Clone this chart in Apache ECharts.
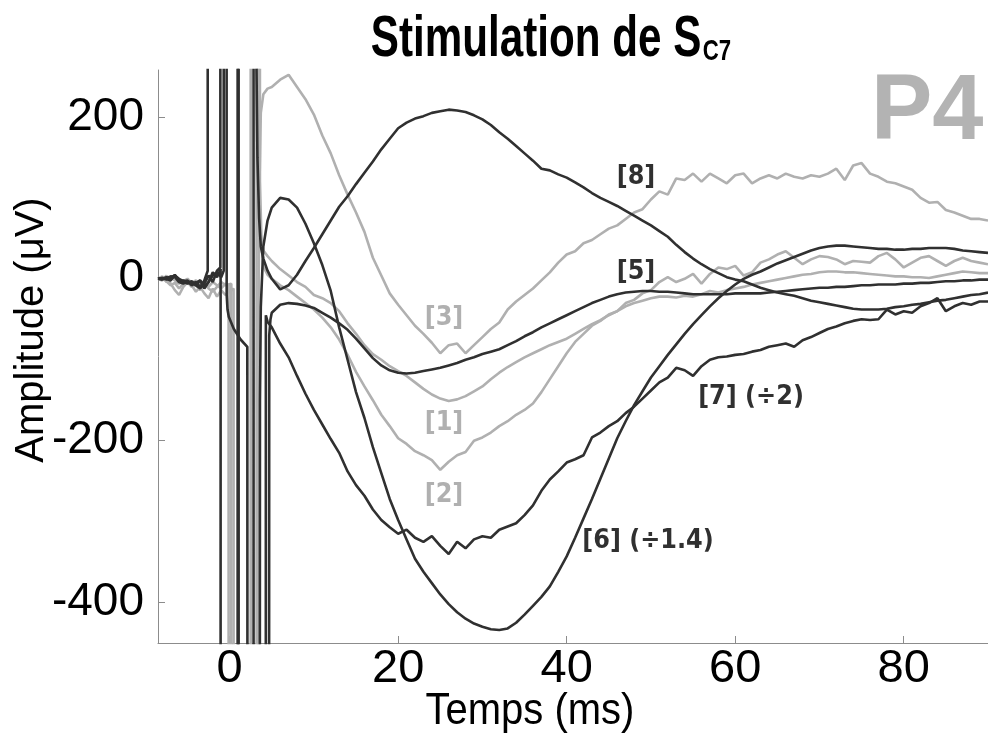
<!DOCTYPE html>
<html>
<head>
<meta charset="utf-8">
<script src="https://cdn.jsdelivr.net/npm/echarts@6/dist/echarts.min.js"></script>
<style>
html,body{margin:0;padding:0;background:#fff;}
#chart{width:988px;height:735px;}
</style>
</head>
<body>
<div id="chart"></div>
<script>
// ---- Data ----
const xTicks = [0, 20, 40, 60, 80];
const yTicks = [-400, -200, 0, 200];

// pre-stimulus sample times (ms)
const tPre = [-8.5, -8, -7.5, -7, -6.5, -6, -5.5, -5, -4.5, -4, -3.5, -3];
// main sample times 5..90 ms
const tMain = [];
for (let t = 5; t <= 90; t++) tMain.push(t);

// baseline values
const pre1 = [0, 2, -3, -8, -5, -12, -6, -4, -10, -8, -14, -6];
const pre2 = [0, -2, 4, -6, -14, -20, -10, -4, -8, -16, -10, -18];
const pre3 = [0, 3, -4, 2, -2, -6, -3, 0, -5, -2, -8, -4];
const pre5 = [0, 1, 0, -2, 5, -3, -2, -5, -4, -8, -2, -10];
const pre6 = [0, 0, 2, -1, 4, -2, -4, -6, -3, -8, -12, -6];
const pre7 = [0, -1, 1, 3, 2, -4, -6, -3, -8, -5, -2, -12];
const pre8 = [0, 1, -1, 2, 4, 0, -3, -2, -6, -4, -10, -2];

// stimulus artefact segments [time, amplitude]
const art1 = [[-2.5,-10],[-2,-4],[-1.5,-8],[-1,-12],[-0.5,-6],[-0.12,-8],[-0.12,-3000],[2.5,-3000],[2.5,3000],[3.3,3000],[3.4,150],[3.6,60],[4,35],[4.5,28]];
const art2 = [[-2.5,-24],[-2,-12],[-1.5,-22],[-1,-14],[-0.5,-20],[0.47,-12],[0.47,-3000],[3.2,-3000],[3.2,3000],[3.5,3000],[3.6,120],[3.8,40],[4,15],[4.5,5]];
const art3 = [[-2.5,-12],[-2,-16],[-1.5,-10],[-1,-4],[-0.5,-8],[0.2,-6],[0.2,-3000],[3.4,-3000],[3.45,0],[3.55,120],[3.7,205],[4,228],[4.5,235]];
const art5 = [[-2.5,-4],[-2,4],[-1.5,8],[-1,2],[-0.7,10],[-0.7,3000],[-0.4,3000],[-0.35,-20],[-0.25,-38],[-0.1,-47],[0.5,-62],[1.3,-75],[2.1,-84],[2.2,-3000],[4.6,-3000],[4.7,-70],[4.85,-50]];
const art6 = [[-2.5,4],[-2,-4],[-1.5,10],[-1.1,14],[-1.1,3000],[1.07,3000],[1.07,-3000],[3.5,-3000],[3.6,-150],[3.7,-35],[4,40],[4.5,72]];
const art7 = [[-2.5,-4],[-2,8],[-1.5,2],[-1.07,12],[-1.07,-3000],[0.95,-3000],[0.95,3000],[2.84,3000],[2.84,-3000],[4.26,-3000],[4.3,-45],[4.5,-53]];
const art8 = [[-2.6,10],[-2.6,3000],[3.1,3000],[3.15,300],[3.3,150],[3.5,75],[3.7,40],[4,25],[4.5,10]];

// responses, t = 5..90 ms
const main1 = [22,12,4,-4,-10,-20,-24,-30,-40,-55,
  -68,-82,-93,-100,-108,-114,-120,-128,-136,-143,
  -148,-151,-149,-145,-139,-133,-124,-116,-109,-103,
  -97,-92,-87,-82,-78,-74,-68,-62,-56,-51,
  -45,-40,-34,-30,-27,-24,-22,-22,-23,-21,
  -22,-19,-15,-17,-14,-12,-10,-7,-5,-3,
  -1,1,3,5,6,8,9,9,8,8,
  7,6,5,4,3,3,2,2,1,3,
  5,7,9,8,7,7];
const main2 = [0,-8,-14,-22,-30,-38,-48,-60,-75,-94,
  -115,-133,-150,-168,-182,-197,-204,-213,-218,-224,
  -236,-226,-218,-214,-200,-196,-190,-182,-176,-168,
  -162,-154,-140,-124,-108,-92,-78,-68,-58,-52,
  -44,-40,-30,-26,-18,-14,-4,2,-4,0,
  6,-6,6,14,12,16,4,8,20,24,
  30,34,26,18,24,28,27,24,18,22,
  21,20,28,32,24,14,20,26,28,22,
  16,22,26,22,20,18];
const main3 = [237,246,252,237,222,203,177,155,128,104,
  82,58,26,4,-18,-32,-45,-58,-68,-79,
  -92,-82,-80,-92,-82,-72,-62,-54,-38,-28,
  -20,-12,-2,8,20,30,34,44,48,55,
  62,66,74,82,86,98,108,104,124,122,
  130,120,130,124,118,128,130,118,124,128,
  124,130,126,124,128,126,130,136,122,140,
  143,130,126,120,118,114,110,100,94,95,
  85,82,78,74,74,72];
const main5 = [-42,-32,-30,-31,-33,-36,-42,-48,-55,-63,
  -74,-86,-98,-107,-113,-116,-117,-116,-114,-112,
  -110,-107,-104,-100,-97,-93,-90,-87,-82,-77,
  -71,-66,-60,-55,-50,-45,-40,-35,-30,-26,
  -22,-19,-17,-16,-15,-15,-16,-16,-17,-18,
  -19,-19,-19,-19,-19,-18,-18,-18,-18,-17,
  -16,-15,-14,-13,-12,-11,-11,-10,-10,-9,
  -8,-8,-7,-7,-7,-6,-6,-5,-5,-4,
  -3,-3,-2,-2,-1,-1];
const main6 = [88,100,98,88,68,44,17,-15,-60,-100,
  -140,-172,-208,-240,-272,-298,-322,-346,-362,-376,
  -390,-402,-412,-420,-426,-430,-433,-434,-432,-425,
  -415,-404,-393,-380,-362,-343,-320,-296,-272,-247,
  -222,-197,-176,-156,-139,-122,-108,-94,-81,-68,
  -56,-45,-34,-24,-15,-7,0,5,9,14,
  19,23,27,31,35,38,40,41,41,40,
  39,38,37,37,36,36,37,37,38,38,
  38,37,35,34,33,32];
const main7 = [-60,-80,-97,-120,-142,-162,-180,-198,-215,-238,
  -255,-268,-285,-298,-307,-315,-310,-320,-325,-318,
  -330,-340,-325,-333,-322,-318,-320,-310,-306,-302,
  -292,-280,-262,-248,-238,-227,-223,-218,-196,-190,
  -182,-176,-166,-158,-148,-138,-128,-122,-110,-113,
  -120,-108,-100,-97,-96,-94,-93,-90,-88,-84,
  -82,-80,-84,-76,-72,-67,-62,-59,-55,-52,
  -50,-51,-50,-38,-44,-40,-42,-34,-30,-24,
  -40,-34,-30,-32,-28,-28];
const main8 = [0,-13,-8,5,22,38,55,72,89,102,
  117,131,145,160,173,186,193,198,201,205,
  207,209,208,206,202,197,190,181,173,164,
  155,146,136,134,129,125,119,113,106,100,
  95,90,84,78,72,66,59,52,42,33,
  25,18,12,7,2,-1,-3,-7,-11,-14,
  -17,-19,-21,-24,-27,-29,-31,-33,-35,-37,
  -38,-38,-38,-37,-35,-34,-32,-31,-29,-27,
  -26,-24,-22,-20,-19,-17];

// ---- Styles ----
const GREY = '#b0b0b0';
const DARK = '#303030';

const traces = [
  { name: '[1]', pre: pre1, art: art1, main: main1, color: GREY },
  { name: '[2]', pre: pre2, art: art2, main: main2, color: GREY },
  { name: '[3]', pre: pre3, art: art3, main: main3, color: GREY },
  { name: '[5]', pre: pre5, art: art5, main: main5, color: DARK },
  { name: '[6]', pre: pre6, art: art6, main: main6, color: DARK },
  { name: '[7]', pre: pre7, art: art7, main: main7, color: DARK },
  { name: '[8]', pre: pre8, art: art8, main: main8, color: DARK }
];

function build(tr) {
  const d = tPre.map((t, i) => [t, tr.pre[i]]);
  tr.art.forEach(p => d.push(p));
  tMain.forEach((t, i) => d.push([t, tr.main[i]]));
  return d;
}

const series = traces.map(tr => ({
  name: tr.name,
  type: 'line',
  data: build(tr),
  showSymbol: false,
  symbol: 'none',
  clip: true,
  smooth: false,
  lineStyle: { color: tr.color, width: 2.6 },
  z: tr.color === DARK ? 3 : 2
}));

const labelFont = 'bold 24px "DejaVu Sans"';
function tag(text, x, y, color) {
  return { type: 'text', x: x, y: y, z: 10, scaleY: 1.12,
    style: { text: text, font: labelFont, fill: color, textAlign: 'center', textVerticalAlign: 'middle' } };
}

const chart = echarts.init(document.getElementById('chart'), null, { renderer: 'canvas' });
chart.setOption({
  animation: false,
  backgroundColor: '#ffffff',
  grid: { left: 158, right: 0, top: 70, bottom: 92 },
  xAxis: {
    type: 'value', min: -8.5, max: 90,
    axisLine: { onZero: false, lineStyle: { color: '#8c8c8c', width: 1 } },
    axisTick: { inside: true, length: 7, customValues: xTicks, lineStyle: { color: '#8c8c8c' } },
    axisLabel: { customValues: xTicks, fontSize: 47, fontFamily: '"Liberation Sans", Arial', color: '#000', margin: 3 },
    splitLine: { show: false }
  },
  yAxis: {
    type: 'value', min: -450, max: 258,
    axisLine: { show: true, onZero: false, lineStyle: { color: '#8c8c8c', width: 1 } },
    axisTick: { show: true, inside: true, length: 7, customValues: yTicks, lineStyle: { color: '#8c8c8c' } },
    axisLabel: { customValues: yTicks, fontSize: 46, fontFamily: '"Liberation Sans", Arial', color: '#000', margin: 14 },
    splitLine: { show: false }
  },
  series: series,
  graphic: [
    { type: 'text', x: 551, y: 39, z: 10, scaleX: 0.74,
      style: { text: '{a|Stimulation de S}{b|C7}', textAlign: 'center', textVerticalAlign: 'middle',
        rich: {
          a: { font: 'bold 57px "Liberation Sans", Arial', fill: '#000', lineHeight: 60, verticalAlign: 'bottom' },
          b: { font: 'bold 30px "Liberation Sans", Arial', fill: '#000', lineHeight: 60, verticalAlign: 'bottom', padding: [0, 0, 2, 2] }
        } } },
    { type: 'text', x: 871, y: 114, z: 1,
      style: { text: 'P4', font: 'bold 92px "Liberation Sans"', fill: '#b3b3b3', textVerticalAlign: 'middle' } },
    { type: 'text', x: 530, y: 712, z: 10, scaleY: 1.1,
      style: { text: 'Temps (ms)', font: '40px "Liberation Sans"', fill: '#000', textAlign: 'center', textVerticalAlign: 'middle' } },
    { type: 'text', x: 32, y: 330, rotation: Math.PI / 2, z: 10,
      style: { text: 'Amplitude (μV)', font: '40px "Liberation Sans"', fill: '#000', textAlign: 'center', textVerticalAlign: 'middle' } },
    tag('[3]', 444, 318, GREY),
    tag('[1]', 444, 423, GREY),
    tag('[2]', 444, 495, GREY),
    tag('[8]', 636, 177, DARK),
    tag('[5]', 636, 272, DARK),
    tag('[7] (÷2)', 751, 397, DARK),
    tag('[6] (÷1.4)', 648, 541, DARK)
  ]
});
</script>
</body>
</html>
